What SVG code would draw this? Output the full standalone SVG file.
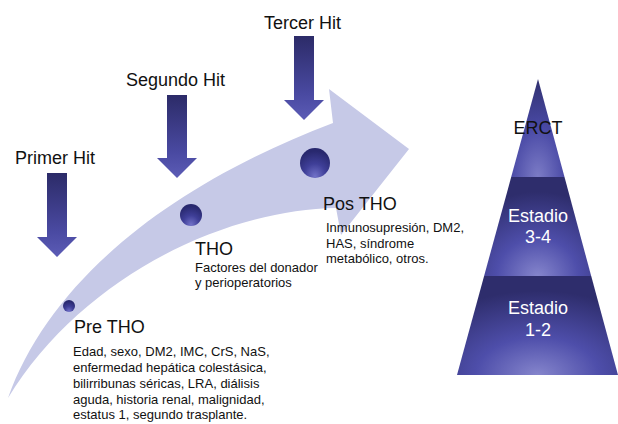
<svg xmlns="http://www.w3.org/2000/svg" width="618" height="424" viewBox="0 0 618 424">
  <defs>
    <linearGradient id="hitGrad" x1="0" y1="0" x2="0" y2="1">
      <stop offset="0" stop-color="#2c2b68"/>
      <stop offset="0.7" stop-color="#4a4aa2"/>
      <stop offset="1" stop-color="#5c5cb6"/>
    </linearGradient>
    <radialGradient id="dotGrad" cx="0.5" cy="0.8" r="0.7" fx="0.5" fy="0.95">
      <stop offset="0" stop-color="#7272c8"/>
      <stop offset="0.5" stop-color="#3f3f98"/>
      <stop offset="1" stop-color="#28286e"/>
    </radialGradient>
    <radialGradient id="tierGrad" cx="0.5" cy="1" r="0.85" fx="0.5" fy="1">
      <stop offset="0" stop-color="#8585cc"/>
      <stop offset="0.45" stop-color="#4e4eaa"/>
      <stop offset="1" stop-color="#2e2d6c"/>
    </radialGradient>
    <radialGradient id="topGrad" cx="0.5" cy="1" r="1" fx="0.5" fy="1">
      <stop offset="0" stop-color="#7c7cc6"/>
      <stop offset="0.5" stop-color="#4a4aa6"/>
      <stop offset="1" stop-color="#303070"/>
    </radialGradient>
  </defs>
  <style>
    text { font-family: "Liberation Sans", Arial, Helvetica, sans-serif; fill: #111; }
    .hdr { font-size: 18px; }
    .body { font-size: 13px; }
    .tier { font-size: 18px; fill: #ffffff; text-anchor: middle; }
    .hit { fill: url(#hitGrad); }
    .dot { fill: url(#dotGrad); }
  </style>

  <g id="connectors">
    <path id="timeline-arrow" d="M 8,398 C 50,280 170,185 333,123 L 329,89 L 409,149 L 341,235 L 336,208 C 220,210 80,280 8,398 Z" fill="#c6c9e7"/>
    <path id="hit1-arrow" class="hit" d="M 47,173 H 67 V 237 H 77 L 57,257 L 37,237 H 47 Z"/>
    <path id="hit2-arrow" class="hit" d="M 167,95 H 187 V 158 H 197 L 177,178 L 157,158 H 167 Z"/>
    <path id="hit3-arrow" class="hit" d="M 294,36 H 314 V 100 H 324 L 304,120 L 284,100 H 294 Z"/>
  </g>

  <g id="primer-hit">
    <text class="hdr" x="15" y="164">Primer Hit</text>
  </g>
  <g id="segundo-hit">
    <text class="hdr" x="126" y="86">Segundo Hit</text>
  </g>
  <g id="tercer-hit">
    <text class="hdr" x="264" y="29">Tercer Hit</text>
  </g>

  <g id="pre-tho">
    <circle class="dot" cx="69" cy="306" r="6"/>
    <text class="hdr" x="74" y="333">Pre THO</text>
    <text class="body" x="73" y="356">Edad, sexo, DM2, IMC, CrS, NaS,</text>
    <text class="body" x="73" y="372">enfermedad hepática colestásica,</text>
    <text class="body" x="73" y="388">bilirribunas séricas, LRA, diálisis</text>
    <text class="body" x="73" y="404">aguda, historia renal, malignidad,</text>
    <text class="body" x="73" y="419">estatus 1, segundo trasplante.</text>
  </g>

  <g id="tho">
    <circle class="dot" cx="191" cy="215" r="11"/>
    <text class="hdr" x="195" y="255">THO</text>
    <text class="body" x="195" y="272">Factores del donador</text>
    <text class="body" x="195" y="287">y perioperatorios</text>
  </g>

  <g id="pos-tho">
    <circle class="dot" cx="315" cy="163" r="15"/>
    <text class="hdr" x="323" y="210">Pos THO</text>
    <text class="body" x="326" y="232">Inmunosupresión, DM2,</text>
    <text class="body" x="326" y="248">HAS, síndrome</text>
    <text class="body" x="326" y="263">metabólico, otros.</text>
  </g>

  <g id="pyramid">
    <g id="tier-erct">
      <polygon points="538,79 564.5,177 511.2,177" fill="url(#topGrad)"/>
      <text x="538" y="134" style="font-size:18px;text-anchor:middle;fill:#111">ERCT</text>
    </g>
    <g id="tier-3-4">
      <polygon points="511.2,177 564.5,177 591.2,276 484.1,276" fill="url(#tierGrad)"/>
      <text class="tier" x="538" y="222">Estadio</text>
      <text class="tier" x="538" y="243">3-4</text>
    </g>
    <g id="tier-1-2">
      <polygon points="484.1,276 591.2,276 618,375 457,375" fill="url(#tierGrad)"/>
      <text class="tier" x="538" y="314">Estadio</text>
      <text class="tier" x="538" y="336">1-2</text>
    </g>
  </g>
</svg>
